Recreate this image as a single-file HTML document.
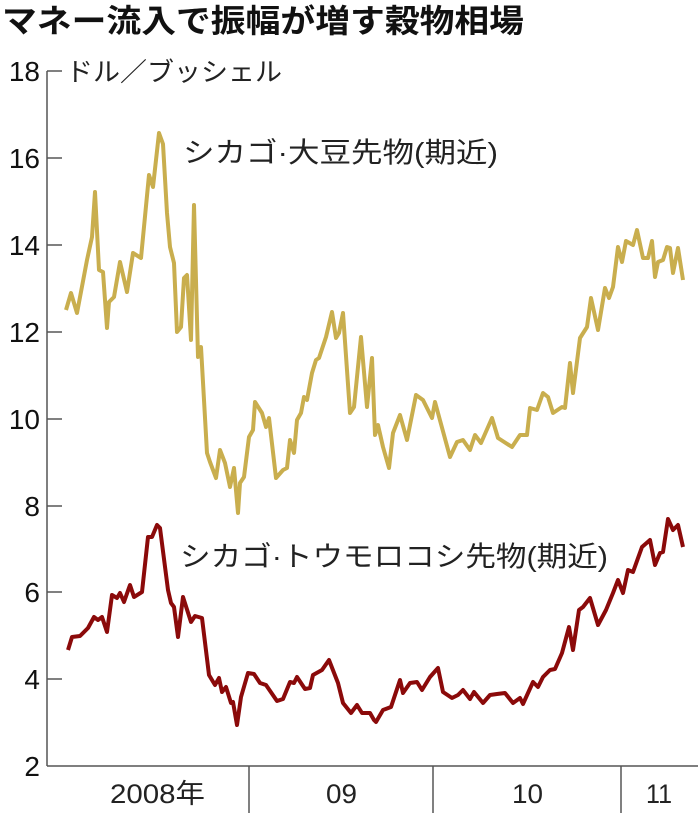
<!DOCTYPE html>
<html><head><meta charset="utf-8"><style>
body{margin:0;background:#fff;}
svg{display:block;font-family:"Liberation Sans","Noto Sans CJK JP",sans-serif;}
</style></head><body>
<svg width="698" height="813" viewBox="0 0 698 813">
<text x="2" y="32" font-size="32" font-weight="bold" fill="#111" textLength="522" lengthAdjust="spacingAndGlyphs">マネー流入で振幅が増す穀物相場</text>
<g stroke="#555" stroke-width="1.5" fill="none">
<line x1="47" y1="71" x2="47" y2="766"/>
<line x1="47" y1="766" x2="698" y2="766"/>
<line x1="47" y1="71" x2="62" y2="71"/>
<line x1="47" y1="158" x2="62" y2="158"/>
<line x1="47" y1="245" x2="62" y2="245"/>
<line x1="47" y1="332" x2="62" y2="332"/>
<line x1="47" y1="419" x2="62" y2="419"/>
<line x1="47" y1="506" x2="62" y2="506"/>
<line x1="47" y1="592" x2="62" y2="592"/>
<line x1="47" y1="679" x2="62" y2="679"/>
<line x1="249" y1="766" x2="249" y2="813"/>
<line x1="433" y1="766" x2="433" y2="813"/>
<line x1="621" y1="766" x2="621" y2="813"/>
</g>
<g font-size="28" fill="#111" text-anchor="end">
<text x="40" y="81">18</text><text x="40" y="168">16</text><text x="40" y="255">14</text>
<text x="40" y="342">12</text><text x="40" y="429">10</text><text x="40" y="516">8</text>
<text x="40" y="602">6</text><text x="40" y="689">4</text><text x="40" y="776">2</text>
</g>
<text x="66" y="81" font-size="26" fill="#222" textLength="216" lengthAdjust="spacingAndGlyphs">ドル／ブッシェル</text>
<g font-size="27" fill="#222">
<text x="110" y="803" textLength="95" lengthAdjust="spacingAndGlyphs">2008年</text>
<text x="326" y="803" textLength="31" lengthAdjust="spacingAndGlyphs">09</text>
<text x="512" y="803" textLength="31" lengthAdjust="spacingAndGlyphs">10</text>
<text x="646" y="803" textLength="26" lengthAdjust="spacingAndGlyphs">11</text>
</g>
<text x="183" y="162" font-size="28" fill="#222" textLength="315" lengthAdjust="spacingAndGlyphs">シカゴ·大豆先物(期近)</text>
<text x="180" y="566" font-size="28" fill="#222" textLength="428" lengthAdjust="spacingAndGlyphs">シカゴ·トウモロコシ先物(期近)</text>
<polyline fill="none" stroke="#c9ae4e" stroke-width="4" stroke-linejoin="round" points="66,310 71,293 77,313 87,260 92,237 95,192 99,270 103,272 107,328 109,302 114,297 120,262 127,292 133,253 141,258 149,175 153,187 159,133 163,144 167,213 170,247 174,263 177,332 181,327 184,278 187,275 191,340 194,205 198,357 201,347 207,453 210,462 216,478 220,450 225,463 230,487 234,468 238,513 240,483 244,477 249,437 253,430 255,402 262,413 266,427 269,418 276,478 283,470 287,468 290,440 294,453 297,420 301,413 304,397 307,400 312,373 316,360 319,358 326,337 332,312 336,338 339,333 343,313 350,413 354,407 361,337 367,407 372,358 375,435 378,425 383,447 389,468 393,433 400,415 407,440 416,395 423,400 432,418 435,402 450,457 457,442 463,440 470,450 475,435 481,443 492,418 498,438 512,447 520,435 527,435 530,408 537,410 543,393 548,397 553,413 562,407 565,408 570,363 573,393 580,338 587,327 591,298 598,330 605,288 609,298 613,287 618,247 622,262 626,241 633,245 637,230 643,258 648,258 652,241 655,277 658,262 663,260 667,247 670,248 673,273 678,248 683,280"/>
<polyline fill="none" stroke="#8b0a0a" stroke-width="4" stroke-linejoin="round" points="68,650 72,637 80,636 88,628 94,617 98,620 102,617 107,632 112,595 117,598 120,593 124,602 130,585 134,597 142,592 148,537 152,537 157,525 160,528 168,590 171,603 174,607 178,637 183,597 191,622 195,616 202,618 209,675 215,685 219,678 222,692 226,687 231,703 233,702 237,725 241,697 248,673 254,674 260,683 266,685 277,701 283,699 290,682 294,683 297,677 305,689 310,688 313,675 322,670 329,660 338,683 343,703 351,713 357,705 362,713 370,713 374,720 376,722 383,710 391,707 400,680 403,693 410,683 417,682 422,690 430,677 438,668 443,692 452,698 458,695 463,690 470,699 474,692 483,703 490,695 497,694 505,693 513,703 520,698 523,704 533,682 538,687 543,677 550,670 555,669 562,653 569,627 573,650 579,610 583,607 590,598 598,625 606,610 613,593 618,580 623,593 628,570 633,572 642,547 650,540 655,565 660,553 663,552 668,519 673,530 678,525 683,547"/>
</svg>
</body></html>
